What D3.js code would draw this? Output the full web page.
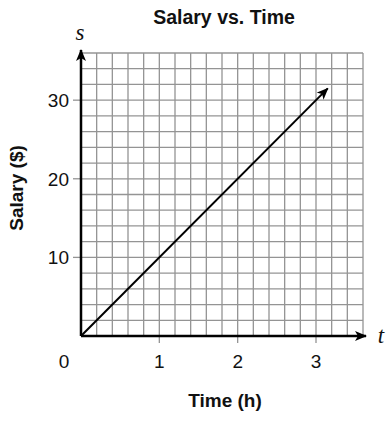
<!DOCTYPE html>
<html>
<head>
<meta charset="utf-8">
<script src="https://cdn.jsdelivr.net/npm/d3@7"></script>
<style>
  body { margin: 0; background: #fff; }
  text { font-family: "Liberation Sans", Arial, sans-serif; fill: #111; }
  text.var { font-family: "Liberation Serif", "DejaVu Serif", serif; font-style: italic; }
</style>
</head>
<body>
<svg id="chart" width="389" height="421"></svg>
<script>
    // data
    var times = [0, 3.15];
    var salary = [0, 31.5];
    var xTicks = [1, 2, 3];
    var yTicks = [10, 20, 30];
    var xMax = 3.6, yMax = 36;
    var xStep = 0.2, yStep = 2;

    var svg = d3.select("#chart");

    var x = d3.scaleLinear().domain([0, xMax]).range([81, 363]);
    var y = d3.scaleLinear().domain([0, yMax]).range([336, 53]);

    var defs = svg.append("defs");
    defs.append("marker")
        .attr("id", "arrow")
        .attr("viewBox", "0 0 12 10")
        .attr("refX", 11)
        .attr("refY", 5)
        .attr("markerWidth", 12)
        .attr("markerHeight", 10)
        .attr("markerUnits", "userSpaceOnUse")
        .attr("orient", "auto")
        .append("path")
        .attr("d", "M0,0 L12,5 L0,10 L3,5 Z")
        .attr("fill", "#000");

    // grid
    var grid = svg.append("g").attr("stroke", "#949494").attr("stroke-width", 1.3);
    grid.selectAll("line.v")
        .data(d3.range(1, Math.round(xMax / xStep) + 1).map(function (i) { return i * xStep; }))
        .enter().append("line")
        .attr("x1", function (d) { return x(d); })
        .attr("x2", function (d) { return x(d); })
        .attr("y1", y(0))
        .attr("y2", y(yMax));
    grid.selectAll("line.h")
        .data(d3.range(1, Math.round(yMax / yStep) + 1).map(function (i) { return i * yStep; }))
        .enter().append("line")
        .attr("x1", x(0))
        .attr("x2", x(xMax))
        .attr("y1", function (d) { return y(d); })
        .attr("y2", function (d) { return y(d); });

    // ticks
    svg.append("g").selectAll("line")
        .data(xTicks).enter().append("line")
        .attr("x1", function (d) { return x(d); })
        .attr("x2", function (d) { return x(d); })
        .attr("y1", y(0)).attr("y2", y(0) + 7)
        .attr("stroke", "#949494").attr("stroke-width", 1.3);
    svg.append("g").selectAll("line")
        .data(yTicks).enter().append("line")
        .attr("x1", x(0) - 8).attr("x2", x(0))
        .attr("y1", function (d) { return y(d); })
        .attr("y2", function (d) { return y(d); })
        .attr("stroke", "#949494").attr("stroke-width", 1.3);

    // tick labels
    svg.append("g").selectAll("text")
        .data(xTicks).enter().append("text")
        .attr("x", function (d) { return x(d); })
        .attr("y", 368)
        .attr("text-anchor", "middle")
        .attr("font-size", 19)
        .text(function (d) { return d; });
    svg.append("text")
        .attr("x", 64).attr("y", 368)
        .attr("text-anchor", "middle")
        .attr("font-size", 19)
        .text("0");
    svg.append("g").selectAll("text")
        .data(yTicks).enter().append("text")
        .attr("x", 69)
        .attr("y", function (d) { return y(d) + 7; })
        .attr("text-anchor", "end")
        .attr("font-size", 19)
        .text(function (d) { return d; });

    // axes
    svg.append("line")
        .attr("x1", x(0)).attr("y1", y(0))
        .attr("x2", x(0)).attr("y2", y(yMax) - 3)
        .attr("stroke", "#000").attr("stroke-width", 2.5)
        .attr("marker-end", "url(#arrow)");
    svg.append("line")
        .attr("x1", x(0)).attr("y1", y(0))
        .attr("x2", x(xMax) + 3).attr("y2", y(0))
        .attr("stroke", "#000").attr("stroke-width", 2.5)
        .attr("marker-end", "url(#arrow)");

    // salary line
    var line = d3.line()
        .x(function (d) { return x(d[0]); })
        .y(function (d) { return y(d[1]); });
    svg.append("path")
        .datum(d3.zip(times, salary))
        .attr("d", line)
        .attr("fill", "none")
        .attr("stroke", "#000")
        .attr("stroke-width", 2)
        .attr("marker-end", "url(#arrow)");

    // axis letters
    svg.append("text")
        .attr("class", "var")
        .attr("x", 80).attr("y", 40)
        .attr("text-anchor", "middle")
        .attr("font-size", 23)
        .text("s");
    svg.append("text")
        .attr("class", "var")
        .attr("x", 381).attr("y", 343)
        .attr("text-anchor", "middle")
        .attr("font-size", 23)
        .text("t");

    // titles
    svg.append("text")
        .attr("x", 224).attr("y", 24)
        .attr("text-anchor", "middle")
        .attr("font-weight", "bold")
        .attr("font-size", 19.5)
        .text("Salary vs. Time");
    svg.append("text")
        .attr("x", 225).attr("y", 407)
        .attr("text-anchor", "middle")
        .attr("font-weight", "bold")
        .attr("font-size", 19)
        .text("Time (h)");
    svg.append("text")
        .attr("transform", "translate(23,188) rotate(-90)")
        .attr("text-anchor", "middle")
        .attr("font-weight", "bold")
        .attr("font-size", 19)
        .text("Salary ($)");
</script>
</body>
</html>
